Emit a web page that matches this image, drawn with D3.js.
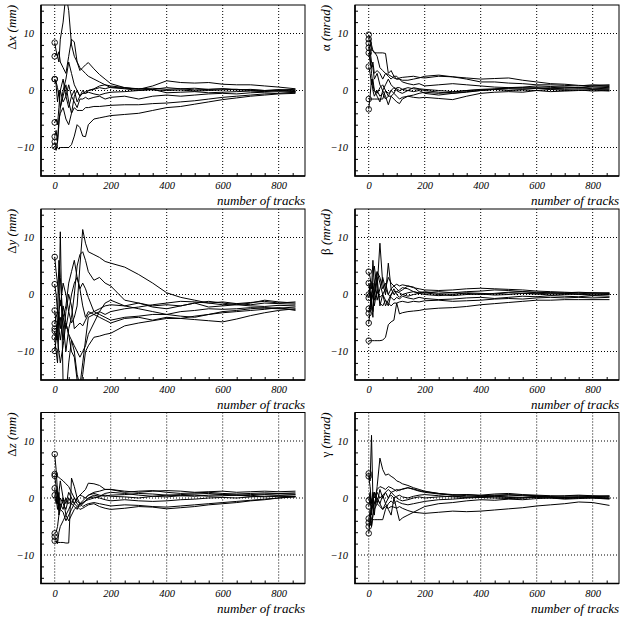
<!DOCTYPE html>
<html>
<head>
<meta charset="utf-8">
<script src="https://cdn.jsdelivr.net/npm/d3@7"></script>
<style>
  body { margin: 0; background: #fff; }
  svg { display: block; }
</style>
</head>
<body>
<script>
// number of tracks at which each trace is sampled
const nTracks = [0, 5, 10, 15, 20, 30, 40, 50, 60, 70, 80, 90, 100, 110, 120, 140,
  160, 180, 200, 250, 300, 350, 400, 450, 500, 550, 600, 650, 700, 750, 800, 860];

const xTicks = [0, 200, 400, 600, 800];
const yTicks = [-10, 0, 10];

// Δx (mm)
const deltaX = [
  [8.4, 7, 6, 5, 9, 12, 17, 14, 8, 6, 5, 4, 3.5, 3, 2.5, 2, 1.5, 1, 0.8, 0.5, 0.3, 0.4, 0.2, 0.3, 0.1, 0.2, 0.3, 0.1, 0.2, 0, 0.1, 0],
  [6.0, 6.5, 6, 6.8, 5, 4, 3, 6, 9, 8.5, 5, 3.5, 4, 4.5, 4.9, 3.8, 2.8, 2, 1.2, 0.5, 0.2, 0.8, 1.7, 1.4, 1.3, 1.4, 1.1, 1, 1, 0.8, 0.6, 0.3],
  [2, 1.5, 0.5, -1, 0, -2, -1, 1, -1, 0, -2, -1, 0, -0.5, 0, 0.3, 0.8, 1, 0.5, 0.3, 0, 0.2, 0.5, 0.3, 0.4, 0.2, 0.3, 0.2, 0.1, 0, 0.1, 0.2],
  [2, 1, -2, 0, -3, -1, 1, -2, -4, -1, 0, -1, -0.5, -0.5, -0.3, -0.6, -0.8, -0.5, -0.3, -0.2, 0, 0.2, -0.4, -0.3, -0.2, -0.4, -0.3, -0.2, -0.1, -0.2, 0, -0.2],
  [-5.6, -5, -6, -3, 0, 2, -1, -3, -1, -2, -3, -1.5, -1.5, -1.2, -1.5, -1.2, -1, -1.5, -1.2, -1, -1.5, -1, -0.8, -1, -0.8, -0.6, -0.5, -0.6, -0.4, -0.3, -0.2, -0.3],
  [-8.1, -7, -9, -5, -4, -3, -5, -6, -4, -3, -3.5, -3.5, -3.5, -3, -3, -2.8, -2.8, -2.7, -2.6, -2.5, -2.5, -2.3, -2.2, -2, -1.8, -1.5, -1.2, -1, -0.8, -0.6, -0.5, -0.3],
  [-9.0, -10, -10, -10.3, -10, -10, -10, -10, -9.5, -8, -6, -6.5, -8, -8.1, -6, -5, -4.8, -4.6, -4.4, -4.2, -4, -3.5, -3, -2.8, -2.4, -2, -1.6, -1.3, -1, -0.8, -0.6, -0.5],
  [-9.8, -10.5, -9, -6, -3, 0, 2, 5, 3, 1, 0, -1, -0.5, -0.2, 0, 0.2, 0.5, 0.3, 0.6, 0.4, 0.3, 0.1, 0, 0.1, -0.1, 0, 0.1, 0.2, 0, -0.1, 0.1, -0.2]
];

// α (mrad)
const alpha = [
  [9.8, 9, 8, 7, 6.8, 6, 4, 3.5, 3, 2.8, 2.5, 2.2, 2, 2.2, 2.3, 2.4, 2.5, 2.3, 2.2, 2.5, 2.4, 2.2, 2, 2.1, 2.2, 1.8, 1.5, 1.2, 1.1, 0.9, 0.8, 0.7],
  [9, 8.5, 7, 7, 6.6, 6.6, 6.6, 6.6, 6.5, 3, 3.5, 2.5, 2, 2, 1.8, 1.8, 2, 2.2, 2.5, 2.7, 2.4, 2, 1.5, 1.5, 1.3, 1.2, 1, 1, 0.9, 0.8, 1, 0.9],
  [8.3, 7, 5, 4, 2, 3, 1, 0, 1, 2, 1, 0.5, 0, -0.3, -0.5, 0, 0.5, 0.3, 0.2, 0, -0.2, 0, 0.2, 0.3, 0.4, 0.5, 0.4, 0.3, 0.2, 0.3, 0.2, 0.2],
  [7.5, 6, 3, 1, 0, -1, -2, 0, -1, -2.5, -1, -1.5, -2, -2.3, -1.5, -1, -0.8, -0.5, -0.3, -0.5, -0.3, 0, 0.1, 0.2, 0, 0.1, 0, 0.2, 0, 0.1, -0.1, 0],
  [6.6, 5, 4, 5, 3, 3.5, 3, 2, 3, 2.5, 2, 2.5, 2.5, 2, 1.5, 1.2, 1, 1.2, 0.8, 1, 1.2, 1, 0.8, 0.6, 0.5, 0.4, 0.5, 0.3, 0.4, 0.5, 0.3, 0.4],
  [4.2, 3, 1, 2, 0, -0.5, 0.5, 1, 0, -0.5, 0, 0.5, 0.3, 0, 0.2, 0, -0.2, 0, -0.5, -0.8, -0.5, -0.2, 0, 0.2, 0.3, 0.2, 0.4, 0.5, 0.6, 0.5, 0.6, 0.5],
  [-1.5, -1.5, -1.5, -1.5, -1.5, -1.5, -1.5, -1.5, 0, -1, 0, -0.5, 0.5, 0.5, 0.2, 0.5, 0.3, 0.2, 0, -0.3, -0.5, -0.3, 0, 0.2, 0.5, 0.6, 0.8, 0.7, 0.6, 0.5, 0.8, 1],
  [-3.3, -1, 2, 0, -1, 0, -1, -0.5, -1.5, -1, -1, -0.5, -1, -1.5, -1.2, -1, -1.2, -1.3, -1.2, -1.4, -1.6, -1, -0.5, -0.3, -0.2, -0.3, 0, -0.2, -0.1, 0, 0.1, -0.1]
];

// Δy (mm)
const deltaY = [
  [6.6, 4, 2, 0, -2, 2, 0, -3, -5, -4, -2, 5, 11.4, 9, 7.5, 7, 6.5, 5.8, 5.5, 4.8, 3.5, 2, 0.3, -0.5, -1, -1.5, -1.3, -1.6, -1.8, -1.5, -1.6, -1.7],
  [1.8, 0, -3, 6, 3, -5, -10, -6, -4, 0, 5, 7, 7.5, 6, 4, 2.5, 3, 2, 1.5, -1, -1.5, -2, -1.8, -2, -1.5, -2.2, -2, -1.8, -2, -2.1, -1.9, -2],
  [-2.8, -5, -8, -3, 11, -16, -18, -12, -8, -10, -14, -16, -12, -8, -4, -3.5, -3, -3.5, -3, -2.5, -2.2, -1.8, -1.5, -1.2, -1.3, -1.5, -1.8, -1.6, -1.4, -1.2, -1.5, -1.3],
  [-5.1, -4, -3, -6, -8, -4, -2, 2, 4, 6, 3, 1, 2, 1, -0.5, -3, -3.5, -4, -4.5, -4, -3.8, -3.5, -3.5, -3, -2.8, -2.5, -2.6, -2.5, -2.3, -2.4, -2.5, -2.6],
  [-6, -6, -8, -10, -12, -9, -5, -7, -10, -11, -15, -17, -14, -10, -9, -7.5, -7.3, -7, -6.8, -5.5, -5, -4.6, -4.2, -4.2, -4.4, -4.6, -4.8, -4.3, -3.7, -3.2, -2.8, -2.5],
  [-6.4, -8, -5, -3, -1, -4, -6, -3, 0, 2, 3, 1, -2, -4, -3, -3.5, -4, -4.5, -5, -4.2, -4, -4.5, -4, -4.2, -3.8, -3.5, -3, -2.8, -2.5, -2.3, -2.4, -2.2],
  [-7.5, -10, -12, -6, -4, -8, -3, 0, -2, -6, -5.5, -5, -5.5, -4.5, -3.5, -3, -2.5, -2, -1.8, -2, -1.5, -2.2, -2.5, -2, -1.5, -1.2, -1.5, -1.8, -1.5, -1, -1.3, -1.5],
  [-9.9, -8, -5, -3, -6, -2, -5, -7, -8, -9, -10, -11, -10, -9, -7, -5, -3, -1.5, -1, -2, -2.5, -3, -3.5, -3.8, -4, -3.5, -3.2, -3, -2.8, -2.6, -2.3, -2.8]
];

// β (mrad)
const beta = [
  [4, 3, 1, 6, 2, 4, 3, 1, 2, 0, 1, 1.5, 1.8, 1.5, 1.7, 1.5, 1.2, 1, 0.8, 0.7, 0.8, 1, 1.1, 1, 0.9, 0.8, 0.6, 0.5, 0.4, 0.3, 0.2, 0.3],
  [2, 0, -2, 3, 5, 1, 9, 2, 0, 5.5, 1, 0, 0.5, 0.8, 1.2, 1, 0.5, 0.3, 0.5, 0.2, 0.3, 0.5, 0.6, 0.8, 0.7, 0.5, 0.4, 0.3, 0.2, 0, -0.1, 0],
  [0, 2, -1, -3, 0, 3, -2, 0, -1, -2, 0, 1, 0, -0.5, 0, -0.3, 0, 0.2, 0, -0.2, 0, 0.3, 0.2, 0.1, 0.3, 0.2, 0.1, 0.3, 0.2, 0.1, 0.3, 0.2],
  [-0.6, 0.5, -2, -4, 2, -1, 1, 3, 1, 0, -0.5, -1, -0.5, -0.8, -0.3, -0.6, -0.8, -0.5, -0.7, -0.9, -0.8, -0.6, -0.5, -0.7, -0.5, -0.3, -0.4, -0.2, -0.3, -0.4, -0.2, -0.3],
  [-2.5, -2, 0, 1, -1, 0.5, -0.5, 0, -2, -1, 0, 0.5, 0.5, 0.3, 0, 0.3, 0.5, 0.2, 0.3, 0.5, 0.3, 0.2, 0, 0.2, 0.4, 0.5, 0.3, 0.2, 0.3, 0.4, 0.3, 0.2],
  [-3.3, -2, -1, 0, -2, 1, -1.5, -2, -1, -1.5, -2, -1.5, -1.5, -1.3, -1.2, -1.4, -1.2, -1.3, -1.1, -1, -1.2, -1.1, -1, -0.8, -0.7, -0.8, -0.6, -0.5, -0.6, -0.5, -0.6, -0.5],
  [-5, -3, -1, 2, 0, 4, 2, 0, 1, 3, 2, 1.5, 1, 0.5, 0.8, 1.5, 1.3, 0.5, 0.3, 0, -0.2, 0, 0.1, -0.1, 0, 0.2, 0.1, -0.1, 0, 0.1, -0.1, 0],
  [-8.1, -8.1, -8.1, -8.1, -8.1, -8.1, -8.1, -8, -7.5, -5.3, -4.8, -4.5, -1.5, -3.4, -3.2, -3, -2.9, -2.8, -2.6, -2.4, -2.3, -2.1, -1.8, -1.6, -1.4, -1.2, -1, -1, -0.9, -0.9, -0.9, -0.9]
];

// Δz (mm)
const deltaZ = [
  [7.7, 5, 1, -3, -1, -2, 0, -1, -0.5, -1, 0, 0.5, 1, 1.5, 2.6, 2.5, 2.2, 1.5, 1.5, 1.2, 1, 1.2, 1.3, 1.2, 1, 1.1, 1.2, 1, 1.1, 1.2, 1.1, 1.2],
  [4.2, 4, 3.8, 3.6, 3.4, 3, 2.5, 2, 1, 0, -0.5, -1, -0.5, 0, 0.5, 1, 1.2, 1.5, 1.5, 1, 1.2, 1.3, 1, 0.8, 0.9, 1, 0.8, 0.7, 0.8, 0.9, 0.8, 0.9],
  [3.9, 2, -1, 1, -2, 0, -3, -2, -1, -1.5, -2, -1, -1.5, -1.2, -1, -0.8, -1, -1.2, -1.4, -1.2, -1.3, -1.5, -1.6, -1.4, -1.2, -1, -0.8, -0.6, -0.4, -0.2, 0, 0.2],
  [1.7, 0, -2, 1, 3, 0, -1, 1, 0, -1, 0, 0.5, 0.3, 0, 0.5, 0.8, 0.5, 0.3, 0.5, 0.6, 0.8, 0.7, 0.5, 0.6, 0.7, 0.8, 0.6, 0.5, 0.6, 0.7, 0.8, 0.7],
  [0.5, -1, 1, -2, 0, -1, -2, 0, -1, 0, -1, -1.5, -1, -0.5, 0, 0.2, 0, -0.3, -0.5, -0.3, -0.5, -0.6, -0.5, -0.3, -0.2, 0, 0.1, 0, 0.2, 0.3, 0.4, 0.3],
  [-6.2, -6, -5, -3, -2, -2.5, -4, -3, -2, -1, -1.5, -1, -0.8, -0.5, -0.3, 0, 0.3, 0.5, 0.3, 0.2, 0, 0.3, 0.5, 0.4, 0.3, 0.5, 0.6, 0.5, 0.4, 0.6, 0.5, 0.6],
  [-6.8, -7.5, -8, -6, -5, -4, -3, -4, -3, -2, -1.5, -2, -1.8, -1.5, -1.2, -1, -1.5, -1.8, -2, -1.8, -1.5, -1.6, -1.9, -1.7, -1.5, -1.2, -1, -0.8, -0.5, -0.3, 0, 0.3],
  [-7.5, -7.8, -7.8, -7.8, -7.8, -7.8, -7.9, -7.9, 3.5, 2, 0, -1, -1, -0.5, 0, 0.5, 0.3, 0.8, 1, 0.8, 0.5, 0.3, 0.2, 0.4, 0.5, 0.3, 0.4, 0.5, 0.3, 0.2, 0.3, 0.2]
];

// γ (mrad)
const gamma = [
  [4.3, 3, 11, 0, -3, 2, 7, 5, 4, 4.2, 3.8, 3.5, 3, 2.8, 2.5, 2.2, 1.8, 1.5, 1.2, 0.8, 0.5, 0.6, 0.4, 0.5, 0.6, 0.5, 0.4, 0.3, 0.4, 0.5, 0.4, 0.3],
  [3.8, 2, -1, 1, 0, 1.5, 2, 1.8, 1.5, 2, 1.8, 1.5, 1.2, 1.5, 1.5, 1.8, 1.5, 1.2, 1, 0.7, 0.5, 0.6, 0.5, 0.7, 0.8, 0.6, 0.5, 0.4, 0.3, 0.4, 0.3, 0.4],
  [-0.4, 1, -2, 0, 1, -1, 1.5, 0, 1, 1.5, 1, 1.2, 1.5, 1.3, 1.6, 1.8, 1.6, 1.3, 1.1, 0.8, 0.6, 0.4, 0.3, 0.4, 0.5, 0.4, 0.3, 0.2, 0.1, 0.2, 0.1, 0],
  [-1.5, 0, -3, -1, 1, 0, -1, 0.5, 1, 0, 0.5, 0, 0.3, 0.5, 0.2, 0, 0.3, 0.5, 0.6, 0.4, 0.2, 0.1, 0.3, 0.2, 0.1, 0, 0.2, 0.1, 0, 0.1, 0, -0.1],
  [-3.6, -3.7, -3.7, -3.8, -3.8, -3.8, -3.8, -3.8, -2, -1, -0.5, -1, -0.5, -0.8, -1, -1.2, -1, -0.8, -0.6, -0.3, -0.2, 0, 0.1, 0, -0.1, 0, 0.1, 0, -0.1, 0, 0.1, 0],
  [-4.3, -2, -5, -3, -1, 0, -1, -2, -1, -2, -3, 0, -2, -4, -3.5, -3, -2.5, -2, -1.5, -1, -0.8, -0.5, -0.3, -0.4, -0.2, -0.3, -0.1, 0, -0.2, -0.1, 0, -0.2],
  [-5, -4, -2, 0, -1, 1, 0, 0.5, -1, 0, 1, 0.5, 0, -0.3, -0.5, -0.3, 0, 0.2, 0, 0.2, 0.3, 0.2, 0.1, 0.3, 0.2, 0.1, 0.3, 0.2, 0.1, 0.2, 0.3, 0.2],
  [-6.2, -4, -5, -3, -2, -1, -1.5, -2, -1.5, -1.8, -1.5, -1.6, -1.8, -1.5, -1.8, -2.2, -2.5, -2.6, -2.7, -2.5, -2.3, -2.4, -2.3, -2.1, -1.9, -1.7, -1.4, -1.2, -1, -0.7, -0.8, -1.3]
];

const panels = [
  { greek: 'Δx', unit: ' (mm)', traces: deltaX },
  { greek: 'α', unit: ' (mrad)', traces: alpha },
  { greek: 'Δy', unit: ' (mm)', traces: deltaY },
  { greek: 'β', unit: ' (mrad)', traces: beta },
  { greek: 'Δz', unit: ' (mm)', traces: deltaZ },
  { greek: 'γ', unit: ' (mrad)', traces: gamma }
];

const serif = '"Liberation Serif", "Times New Roman", Times, "DejaVu Serif", serif';

const width = 621;
const height = 617;
const colLeft = [41, 355];
const rowTop = [5, 209, 412.5];
const pw = 264;
const ph = 171;

const svg = d3.select('body')
  .append('svg')
  .attr('width', width)
  .attr('height', height);

panels.forEach((p, i) => {
  const left = colLeft[i % 2];
  const top = rowTop[Math.floor(i / 2)];

  const x = d3.scaleLinear().domain([-49, 894]).range([0, pw]);
  const y = d3.scaleLinear().domain([-15, 15]).range([ph, 0]);

  const g = svg.append('g').attr('transform', `translate(${left},${top})`);

  g.append('clipPath').attr('id', 'clip' + i)
    .append('rect').attr('width', pw).attr('height', ph);

  // dotted grid
  g.selectAll('.gx').data(xTicks).enter().append('line')
    .attr('x1', (d) => x(d)).attr('x2', (d) => x(d))
    .attr('y1', 0).attr('y2', ph)
    .attr('stroke', '#000').attr('stroke-width', 1)
    .attr('stroke-dasharray', '1,2');
  g.selectAll('.gy').data(yTicks).enter().append('line')
    .attr('x1', 0).attr('x2', pw)
    .attr('y1', (d) => y(d)).attr('y2', (d) => y(d))
    .attr('stroke', '#000').attr('stroke-width', 1)
    .attr('stroke-dasharray', '1,2');

  // minor ticks, inward
  const yMinor = d3.range(-14, 15, 2).filter((d) => d % 10 !== 0);
  g.append('g')
    .call(d3.axisRight(y).tickValues(yMinor).tickSize(3).tickFormat(''))
    .call((a) => a.select('.domain').remove());
  const xMinor = d3.range(-50, 900, 50).filter((d) => d % 200 !== 0 && d > -49);
  g.append('g').attr('transform', `translate(0,${ph})`)
    .call(d3.axisTop(x).tickValues(xMinor).tickSize(3).tickFormat(''))
    .call((a) => a.select('.domain').remove());

  // tick labels
  g.append('g')
    .call(d3.axisLeft(y).tickValues(yTicks).tickSize(0).tickPadding(7).tickFormat(d3.format('d')))
    .call((a) => a.select('.domain').remove())
    .attr('font-family', serif)
    .attr('font-size', 10.5)
    .attr('font-style', 'italic');
  g.append('g').attr('transform', `translate(0,${ph})`)
    .call(d3.axisBottom(x).tickValues(xTicks).tickSize(0).tickPadding(6))
    .call((a) => a.select('.domain').remove())
    .attr('font-family', serif)
    .attr('font-size', 10.5)
    .attr('font-style', 'italic');

  // traces
  const line = d3.line()
    .x((d, k) => x(nTracks[k]))
    .y((d) => y(d));
  const traces = g.append('g').attr('clip-path', `url(#clip${i})`);
  traces.selectAll('path').data(p.traces).enter().append('path')
    .attr('d', line)
    .attr('fill', 'none')
    .attr('stroke', '#000')
    .attr('stroke-width', 1)
    .attr('stroke-linejoin', 'round');
  traces.selectAll('circle').data(p.traces).enter().append('circle')
    .attr('cx', x(0))
    .attr('cy', (d) => y(d[0]))
    .attr('r', 2.8)
    .attr('fill', 'none')
    .attr('stroke', '#000')
    .attr('stroke-width', 0.9);

  // frame
  g.append('rect').attr('width', pw).attr('height', ph)
    .attr('fill', 'none').attr('stroke', '#000').attr('stroke-width', 1);
  g.append('path')
    .attr('d', d3.line()([[0, 0], [0, ph], [pw, ph]]))
    .attr('fill', 'none').attr('stroke', '#000').attr('stroke-width', 1.6);

  // x title
  g.append('text')
    .attr('x', pw).attr('y', ph + 29)
    .attr('text-anchor', 'end')
    .attr('font-family', serif)
    .attr('font-size', 13)
    .attr('font-style', 'italic')
    .text('number of tracks');

  // y title, rotated, anchored at top
  const yt = g.append('text')
    .attr('transform', 'translate(-25,0) rotate(-90)')
    .attr('text-anchor', 'end')
    .attr('font-family', serif)
    .attr('font-size', 13);
  yt.append('tspan').text(p.greek[0]);
  if (p.greek.length > 1) yt.append('tspan').attr('font-style', 'italic').text(p.greek.slice(1));
  yt.append('tspan').attr('font-style', 'italic').text(p.unit);
});
</script>
</body>
</html>
